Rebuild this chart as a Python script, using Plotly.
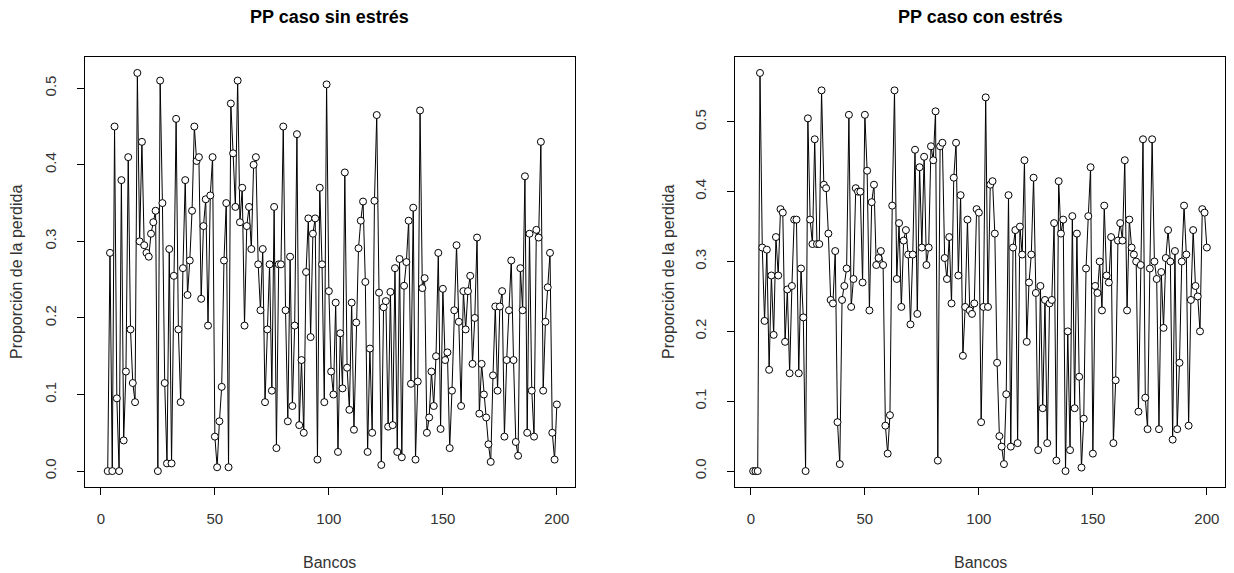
import plotly.graph_objects as go

banks = list(range(1, 201))

pp_sin = [
    None, None, 0, 0.285, 0, 0.45, 0.095, 0, 0.38, 0.04,
    0.13, 0.41, 0.185, 0.115, 0.09, 0.52, 0.30, 0.43, 0.295, 0.285,
    0.28, 0.31, 0.325, 0.34, 0, 0.51, 0.35, 0.115, 0.01, 0.29,
    0.01, 0.255, 0.46, 0.185, 0.09, 0.265, 0.38, 0.23, 0.275, 0.34,
    0.45, 0.405, 0.41, 0.225, 0.32, 0.355, 0.19, 0.36, 0.41, 0.045,
    0.005, 0.065, 0.11, 0.275, 0.35, 0.005, 0.48, 0.415, 0.345, 0.51,
    0.325, 0.37, 0.19, 0.32, 0.345, 0.29, 0.40, 0.41, 0.27, 0.21,
    0.29, 0.09, 0.185, 0.27, 0.105, 0.345, 0.03, 0.27, 0.27, 0.45,
    0.21, 0.065, 0.28, 0.085, 0.19, 0.44, 0.06, 0.145, 0.05, 0.26,
    0.33, 0.175, 0.31, 0.33, 0.015, 0.37, 0.27, 0.09, 0.505, 0.235,
    0.13, 0.10, 0.22, 0.025, 0.18, 0.108, 0.39, 0.135, 0.08, 0.22,
    0.054, 0.194, 0.291, 0.327, 0.352, 0.247, 0.025, 0.16, 0.05, 0.353,
    0.465, 0.233, 0.008, 0.214, 0.222, 0.058, 0.234, 0.06, 0.265, 0.025,
    0.277, 0.018, 0.242, 0.273, 0.327, 0.114, 0.344, 0.015, 0.117, 0.471,
    0.239, 0.252, 0.05, 0.07, 0.13, 0.085, 0.15, 0.285, 0.055, 0.238,
    0.145, 0.155, 0.03, 0.105, 0.21, 0.295, 0.195, 0.085, 0.235, 0.185,
    0.235, 0.255, 0.14, 0.2, 0.305, 0.075, 0.14, 0.1, 0.07, 0.035,
    0.012, 0.125, 0.215, 0.105, 0.215, 0.235, 0.045, 0.145, 0.21, 0.275,
    0.145, 0.038, 0.02, 0.265, 0.21, 0.385, 0.05, 0.31, 0.105, 0.045,
    0.315, 0.305, 0.43, 0.105, 0.195, 0.24, 0.285, 0.05, 0.015, 0.087,
]

pp_con = [
    0, 0, 0, 0.57, 0.32, 0.215, 0.317, 0.145, 0.28, 0.195,
    0.335, 0.28, 0.375, 0.37, 0.185, 0.26, 0.14, 0.265, 0.36, 0.36,
    0.14, 0.29, 0.22, 0.0, 0.505, 0.36, 0.325, 0.475, 0.325, 0.325,
    0.545, 0.41, 0.405, 0.34, 0.245, 0.24, 0.315, 0.07, 0.01, 0.245,
    0.265, 0.29, 0.51, 0.235, 0.275, 0.405, 0.40, 0.40, 0.27, 0.51,
    0.43, 0.23, 0.385, 0.41, 0.295, 0.305, 0.315, 0.295, 0.065, 0.025,
    0.08, 0.38, 0.545, 0.275, 0.355, 0.235, 0.33, 0.345, 0.31, 0.21,
    0.31, 0.46, 0.225, 0.435, 0.32, 0.45, 0.295, 0.32, 0.465, 0.445,
    0.515, 0.015, 0.465, 0.47, 0.305, 0.275, 0.335, 0.24, 0.42, 0.47,
    0.28, 0.395, 0.165, 0.235, 0.36, 0.23, 0.225, 0.24, 0.375, 0.37,
    0.07, 0.235, 0.535, 0.235, 0.41, 0.415, 0.34, 0.155, 0.05, 0.035,
    0.01, 0.11, 0.395, 0.035, 0.32, 0.345, 0.04, 0.35, 0.31, 0.445,
    0.185, 0.27, 0.31, 0.42, 0.255, 0.03, 0.265, 0.09, 0.245, 0.04,
    0.24, 0.245, 0.355, 0.015, 0.415, 0.34, 0.36, 0.0, 0.2, 0.03,
    0.365, 0.09, 0.34, 0.135, 0.005, 0.075, 0.29, 0.365, 0.435, 0.025,
    0.265, 0.255, 0.30, 0.23, 0.38, 0.28, 0.27, 0.335, 0.04, 0.13,
    0.33, 0.355, 0.33, 0.445, 0.23, 0.36, 0.32, 0.31, 0.30, 0.085,
    0.295, 0.475, 0.105, 0.06, 0.29, 0.475, 0.30, 0.275, 0.06, 0.285,
    0.205, 0.305, 0.345, 0.30, 0.045, 0.315, 0.06, 0.155, 0.30, 0.38,
    0.31, 0.065, 0.245, 0.345, 0.265, 0.25, 0.20, 0.375, 0.37, 0.32,
]

x_ticks = [0, 50, 100, 150, 200]
y_ticks = [0.0, 0.1, 0.2, 0.3, 0.4, 0.5]
y_tick_labels = ["0.0", "0.1", "0.2", "0.3", "0.4", "0.5"]
titles = ["PP caso sin estrés", "PP caso con estrés"]
x_label = "Bancos"
y_label = "Proporción de la perdida"

FONT = "Liberation Sans, Arial, sans-serif"
TXT = "#333333"
W, H = 1234, 573


def r_range(vals):
    v = [a for a in vals if a is not None]
    lo, hi = min(v), max(v)
    pad = (hi - lo) * 0.04
    return [lo - pad, hi + pad]


fig = go.Figure()
series = [pp_sin, pp_con]
for k, ser in enumerate(series):
    fig.add_trace(go.Scatter(
        x=banks, y=ser, mode="lines+markers",
        line=dict(color="black", width=1),
        marker=dict(symbol="circle", size=7, color="white",
                    line=dict(color="black", width=1)),
        connectgaps=False, showlegend=False,
        xaxis="x" if k == 0 else "x2",
        yaxis="y" if k == 0 else "y2",
    ))

boxes = [(85, 575), (735, 1225)]
top_px, bot_px = 57, 487
ydom = [(H - bot_px) / H, (H - top_px) / H]

axis_common = dict(
    showgrid=False, zeroline=False, showline=True, mirror=True,
    linecolor="black", linewidth=1, ticks="outside", ticklen=7,
    tickcolor="black", tickwidth=1,
    tickfont=dict(family=FONT, size=15, color=TXT),
)

layout = dict(
    width=W, height=H, plot_bgcolor="white", paper_bgcolor="white",
    margin=dict(l=0, r=0, t=0, b=0), showlegend=False,
)
xr = r_range(banks)
for k in range(2):
    xs = "" if k == 0 else "2"
    xd = [boxes[k][0] / W, boxes[k][1] / W]
    layout["xaxis" + xs] = dict(
        axis_common, domain=xd, range=xr, tickvals=x_ticks,
        anchor="y" + xs, ticklabelstandoff=11,
    )
    layout["yaxis" + xs] = dict(
        axis_common, domain=ydom, range=r_range(series[k]),
        tickvals=y_ticks, ticktext=y_tick_labels, tickangle=-90,
        anchor="x" + xs, ticklabelstandoff=15,
    )

fig.update_layout(**layout)

ann = []
for k in range(2):
    cx = (boxes[k][0] + boxes[k][1]) / 2 / W
    ann.append(dict(text="<b>" + titles[k] + "</b>", x=cx, y=1 - 17 / H,
                    xref="paper", yref="paper", showarrow=False,
                    xanchor="center", yanchor="middle",
                    font=dict(family=FONT, size=18, color="black")))
    ann.append(dict(text=x_label, x=cx, y=1 - 562 / H,
                    xref="paper", yref="paper", showarrow=False,
                    xanchor="center", yanchor="middle",
                    font=dict(family=FONT, size=16, color=TXT)))
    lx = (16 if k == 0 else 668) / W
    ann.append(dict(text=y_label, x=lx, y=1 - 272 / H, textangle=-90,
                    xref="paper", yref="paper", showarrow=False,
                    xanchor="center", yanchor="middle",
                    font=dict(family=FONT, size=16, color=TXT)))
fig.update_layout(annotations=ann)

fig.write_html(
    "out.html",
    config={"displayModeBar": False},
    post_script="document.body.style.margin='0';document.body.style.overflow='hidden';",
)
